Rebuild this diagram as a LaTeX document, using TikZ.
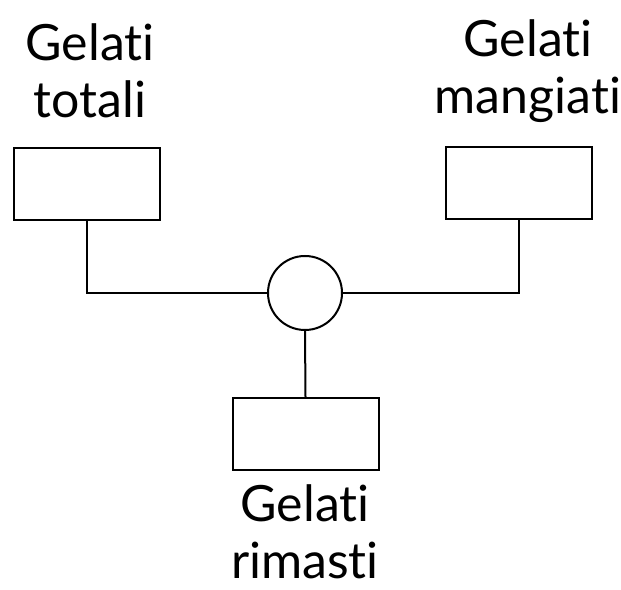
\documentclass[tikz,border=0pt]{standalone}
\usepackage{fontspec}
\setmainfont{Lato}[Ligatures={NoCommon,NoRare,NoContextual}]
\begin{document}
\begin{tikzpicture}[x=1pt,y=1pt,
  box/.style={draw, line width=2pt, minimum width=146pt, minimum height=72pt, inner sep=0pt},
  junc/.style={draw, circle, line width=2pt, minimum size=74pt, inner sep=0pt},
  lab/.style={align=center, font=\fontsize{50}{57}\selectfont, inner sep=0pt},
  conn/.style={line width=2pt}]
\useasboundingbox (0,0) rectangle (621,589);
\node[box] (A) at (87,405) {};
\node[box] (B) at (519,406) {};
\node[box] (C) at (305.5,155) {};
\node[junc] (J) at (305,296) {};
\node[lab] (LA) at (90,518) {Gelati\\totali};
\node[lab] (LB) at (528,518) {Gelati\\mangiati};
\node[lab] (LC) at (305,57) {Gelati\\rimasti};
\draw[conn] (A.south) |- (J.west);
\draw[conn] (B.south) |- (J.east);
\draw[conn] (J.south) -- (C.north);
\end{tikzpicture}
\end{document}
